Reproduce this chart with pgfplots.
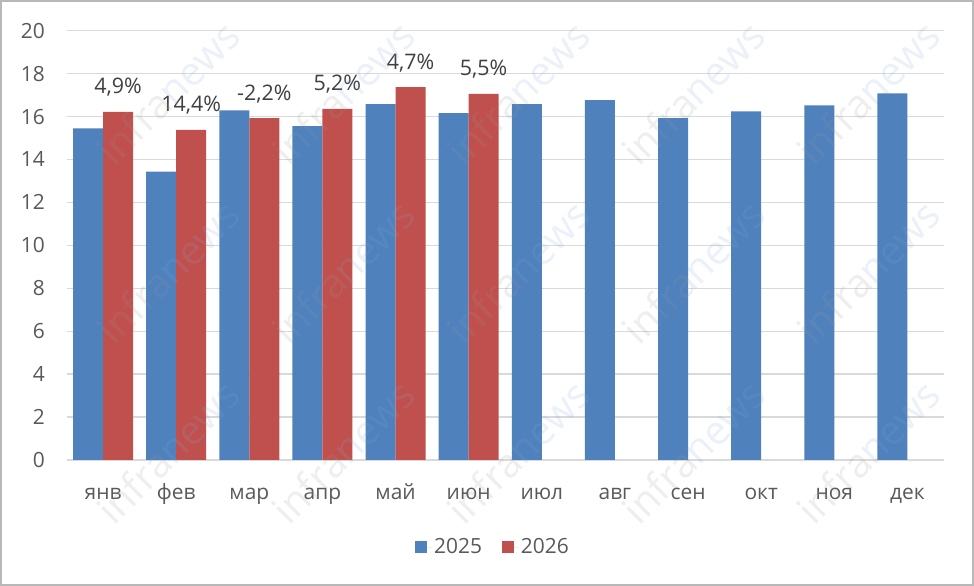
\documentclass[border=0pt]{standalone}
\usepackage{pgfplots}
\pgfplotsset{compat=1.18}
\usepackage{fontspec}
\setmainfont{Open Sans}
\newfontfamily\wmfont{Open Sans}
\definecolor{b25}{HTML}{4F81BD}
\definecolor{r26}{HTML}{C0504D}
\definecolor{gridc}{HTML}{D9D9D9}
\definecolor{txt}{HTML}{595959}
\definecolor{lbl}{HTML}{404040}
\definecolor{wmg}{HTML}{9A9A9A}
\definecolor{wmb}{HTML}{7FA8D8}
\begin{document}
\begin{tikzpicture}
\path[use as bounding box] (0,0) rectangle (974bp,586bp);
\fill[white] (0,0) rectangle (974bp,586bp);
\begin{axis}[
  at={(66.5bp,126bp)}, anchor=south west,
  scale only axis, width=877.5bp, height=429.3bp,
  xmin=-0.5, xmax=11.5, ymin=0, ymax=20,
  enlargelimits=false,
  ytick={0,2,...,20},
  xtick={0,...,11},
  xticklabels={янв,фев,мар,апр,май,июн,июл,авг,сен,окт,ноя,дек},
  axis line style={draw=none},
  major tick length=0pt,
  ymajorgrids,
  grid style={gridc, line width=1.4bp},
  /pgf/number format/assume math mode=true,
  every tick label/.append style={font=\fontsize{21}{25}\selectfont, text=txt, inner sep=0pt},
  yticklabel style={anchor=east, xshift=-21.5bp},
  xticklabel style={anchor=base, yshift=-39bp},
  ybar, bar width=0.41,
  legend columns=2,
  legend style={draw=none, fill=none, at={(axis description cs:0.486,-0.2027)}, anchor=center,
    font=\fontsize{21}{25}\selectfont, text=txt,
    /tikz/every even column/.append style={column sep=18bp}},
]
\addplot[fill=b25, draw=none, bar shift=-0.205,
  legend image code/.code={\fill[b25] (0bp,-6bp) rectangle (12bp,6bp); \path (0bp,0bp) -- (17bp,0bp);}]
  coordinates {(0,15.45) (1,13.43) (2,16.29) (3,15.56) (4,16.58) (5,16.16)
               (6,16.58) (7,16.77) (8,15.93) (9,16.24) (10,16.52) (11,17.08)};
\addlegendentry{2025}
\addplot[fill=r26, draw=none, bar shift=0.205,
  legend image code/.code={\fill[r26] (0bp,-6bp) rectangle (12bp,6bp); \path (0bp,0bp) -- (17bp,0bp);},
  point meta=explicit symbolic, nodes near coords,
  every node near coord/.append style={anchor=base, yshift=18bp, inner sep=0pt,
    font=\fontsize{21.5}{25}\selectfont, text=lbl}]
  coordinates {(0,16.22) [4,9\%] (1,15.38) [14,4\%] (2,15.93) [-2,2\%]
               (3,16.36) [5,2\%] (4,17.37) [4,7\%] (5,17.06) [5,5\%]};
\addlegendentry{2026}
\end{axis}
\foreach \x in {168,343,518,693,868}{
  \foreach \y in {93,272,452}{
    \node[rotate=45, opacity=0.16, font=\wmfont\fontsize{40}{40}\selectfont, inner sep=0pt]
      at (\x bp, {(586-\y)*1bp}) {\textcolor{wmg}{infra}\textcolor{wmb}{news}};
  }
}
\draw[gridc!85!black, line width=2bp] (1bp,1bp) rectangle (973bp,585bp);
\end{tikzpicture}
\end{document}
